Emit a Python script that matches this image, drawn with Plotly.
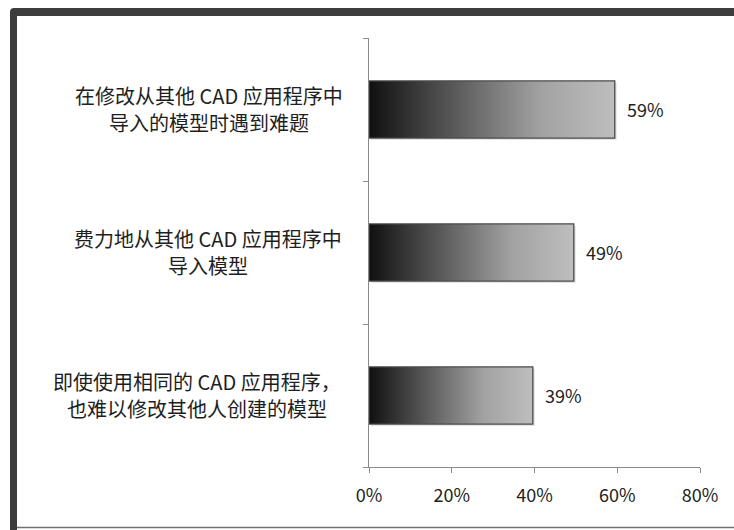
import plotly.graph_objects as go

# ---- data ----
categories = [
    ["在修改从其他 CAD 应用程序中", "导入的模型时遇到难题"],
    ["费力地从其他 CAD 应用程序中", "导入模型"],
    ["即使使用相同的 CAD 应用程序，", "也难以修改其他人创建的模型"],
]
values = [0.594, 0.495, 0.396]
x_ticks = [0, 0.2, 0.4, 0.6, 0.8]
x_tick_labels = ["0%", "20%", "40%", "60%", "80%"]

W, H = 734, 530
L, R, T, B = 369, 34, 38, 63
PW, PH = W - L - R, H - T - B

FONT = "Noto Sans CJK SC"
grad = [[0, "#101010"], [0.35, "#5a5a5a"], [0.7, "#a2a2a2"], [1, "#bebebe"]]
half = 0.2
label_centers_px = [209, 208, 197]   # horizontal centre of each label block

fig = go.Figure()

for i, v in enumerate(values):
    # faint shadow
    dx = 0.8 / PW * 2
    dy = 1.0 / PH * 3 * 2
    fig.add_trace(go.Scatter(
        x=[dx, v + dx, v + dx, dx, dx],
        y=[i - half + dy, i - half + dy, i + half + dy, i + half + dy, i - half + dy],
        mode="lines", fill="toself", fillcolor="rgba(0,0,0,0.10)",
        line=dict(width=0), hoverinfo="skip", showlegend=False))
    fig.add_trace(go.Scatter(
        x=[0, v, v, 0, 0],
        y=[i - half, i - half, i + half, i + half, i - half],
        mode="lines", fill="toself",
        fillgradient=dict(type="horizontal", colorscale=grad),
        line=dict(color="#4a4a4a", width=1.3),
        hoverinfo="skip", showlegend=False))
    fig.add_annotation(x=v, y=i, xref="x", yref="y", text=f"{int(v*100 + 1e-9)}%",
                       showarrow=False, xanchor="left", xshift=10, yshift=1,
                       font=dict(family=FONT, size=18, color="#222"))
    for j, t in enumerate(categories[i]):
        fig.add_annotation(x=(label_centers_px[i] - L) / PW, y=i, xref="paper", yref="y",
                           text=t, showarrow=False, xanchor="center", yanchor="middle",
                           yshift=14 - 27 * j,
                           font=dict(family=FONT, size=20, color="#1e1e1e"))

def px_x(p):
    return (p - L) / PW

def px_y(p):
    return (H - B - p) / PH

# frame
fig.add_shape(type="path", xref="paper", yref="paper",
              path=(f"M {px_x(10)},{px_y(H + 5)} L {px_x(10)},{px_y(12)} "
                    f"Q {px_x(10)},{px_y(8)} {px_x(14)},{px_y(8)} L {px_x(W + 5)},{px_y(8)} "
                    f"L {px_x(W + 5)},{px_y(16)} L {px_x(17)},{px_y(16)} L {px_x(17)},{px_y(H + 5)} Z"),
              fillcolor="#3d3d3d", line=dict(width=0), layer="above")
fig.add_shape(type="line", xref="paper", yref="paper",
              x0=px_x(17), x1=px_x(W + 5), y0=px_y(527.5), y1=px_y(527.5),
              line=dict(color="#707070", width=1.5), layer="above")

fig.update_layout(
    width=W, height=H,
    margin=dict(l=L, r=R, t=T, b=B),
    paper_bgcolor="white", plot_bgcolor="white",
    xaxis=dict(range=[0, 0.8], tickvals=x_ticks, ticktext=x_tick_labels,
               showgrid=False, zeroline=False, showline=True, linecolor="#8a8a8a",
               linewidth=1, ticks="outside", ticklen=5, tickcolor="#8a8a8a",
               tickfont=dict(family=FONT, size=18, color="#222"), ticklabelstandoff=7),
    yaxis=dict(range=[2.5, -0.5], tickvals=[-0.5, 0.5, 1.5, 2.5],
               ticktext=["", "", "", ""], showgrid=False, zeroline=False,
               showline=True, linecolor="#8a8a8a", linewidth=1,
               ticks="outside", ticklen=5, tickcolor="#8a8a8a"),
)

fig.write_html("out.html")
